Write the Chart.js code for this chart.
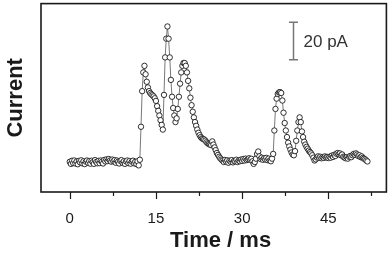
<!DOCTYPE html>
<html><head><meta charset="utf-8">
<script src="https://cdn.jsdelivr.net/npm/chart.js@4/dist/chart.umd.min.js"></script>
<style>html,body{margin:0;padding:0;background:#fff}canvas{display:block}</style>
</head><body>
<canvas id="c" width="390" height="256"></canvas>
<script>
// ---- data (time in ms, current in pA relative to baseline) ----
const timeMs = [
  0,0.2,0.4,0.6,0.8,1,1.2,1.4,1.6,1.8,
  2,2.2,2.4,2.6,2.8,3,3.2,3.4,3.6,3.8,
  4,4.2,4.4,4.6,4.8,5,5.2,5.4,5.6,5.8,
  6,6.2,6.4,6.6,6.8,7,7.2,7.4,7.6,7.8,
  8,8.2,8.4,8.6,8.8,9,9.2,9.4,9.6,9.8,
  10,10.2,10.4,10.6,10.8,11,11.2,11.4,11.6,11.8,
  12,12.2,12.4,12.6,12.8,13,13.2,13.4,13.6,13.8,
  14,14.2,14.4,14.6,14.8,15,15.2,15.4,15.6,15.8,
  16,16.2,16.4,16.6,16.8,17,17.2,17.4,17.6,17.8,
  18,18.2,18.4,18.6,18.8,19,19.2,19.4,19.6,19.8,
  20,20.2,20.4,20.6,20.8,21,21.2,21.4,21.6,21.8,
  22,22.2,22.4,22.6,22.8,23,23.2,23.4,23.6,23.8,
  24,24.2,24.4,24.6,24.8,25,25.2,25.4,25.6,25.8,
  26,26.2,26.4,26.6,26.8,27,27.2,27.4,27.6,27.8,
  28,28.2,28.4,28.6,28.8,29,29.2,29.4,29.6,29.8,
  30,30.2,30.4,30.6,30.8,31,31.2,31.4,31.6,31.8,
  32,32.2,32.4,32.6,32.8,33,33.2,33.4,33.6,33.8,
  34,34.2,34.4,34.6,34.8,35,35.2,35.4,35.6,35.8,
  36,36.2,36.4,36.6,36.8,37,37.2,37.4,37.6,37.8,
  38,38.2,38.4,38.6,38.8,39,39.2,39.4,39.6,39.8,
  40,40.2,40.4,40.6,40.8,41,41.2,41.4,41.6,41.8,
  42,42.2,42.4,42.6,42.8,43,43.2,43.4,43.6,43.8,
  44,44.2,44.4,44.6,44.8,45,45.2,45.4,45.6,45.8,
  46,46.2,46.4,46.6,46.8,47,47.2,47.4,47.6,47.8,
  48,48.2,48.4,48.6,48.8,49,49.2,49.4,49.6,49.8,
  50,50.2,50.4,50.6,50.8,51,51.2,51.4,51.6,51.8
];
const currentPA = [
  0.3,-0.8,0.9,-0.4,1.0,-0.6,0.5,-1.0,0.8,0.0,
  1.1,-0.5,0.6,-0.9,0.4,1.0,-0.3,0.7,-0.7,0.9,
  0.1,-0.8,1.2,0.2,-0.5,0.8,-0.4,1.0,0.3,-0.6,
  1.3,0.5,1.6,0.7,1.8,1.0,0.4,1.5,0.6,1.2,
  -0.2,1.0,0.3,-0.6,0.8,1.2,-0.3,0.6,-0.8,0.5,
  1.0,-0.4,0.7,-0.7,0.4,0.9,-0.5,0.3,-0.9,0.6,
  -1.6,1.4,19,38,48,51.5,47,43,40,38,
  37,36.3,35.8,35.2,34.2,32.8,30,27.5,25,22.5,
  20,17.5,36,56,66,72.5,66,56,44,35,
  29,25,21.5,23.5,28.5,35,42,48,51.5,53,
  53,51.5,48,43.5,39.5,34.5,30.5,27,24,21.5,
  19.5,17.5,15.8,14.5,13.5,12.8,12.5,12.2,11.6,10.8,
  10.2,9.8,9.5,9.2,11.2,9.5,8,6.5,5,4,
  3,2.2,1.5,1.0,0.2,1.3,0.4,1.1,-0.2,0.9,
  0.3,1.2,0.0,0.8,0.5,1.4,0.2,1.0,0.6,1.5,
  0.8,1.8,1.0,2.0,1.2,1.7,2.2,1.4,1.9,0.6,
  -0.8,0.2,2.0,4.5,5.8,3.2,1.8,2.5,1.4,2.2,
  1.6,2.4,1.2,2.0,1.0,0.6,2.0,4.5,17,28.5,
  34,36.5,37.3,37.5,37,33,26.5,21,17,13.5,
  10.5,8.5,6.8,5.3,4.2,3.8,6,11.5,17,21.5,
  24,21.5,16.5,13.5,11,9.5,8.3,7.3,6.3,5.5,
  4.8,3.8,2.5,1.0,1.6,2.6,3.2,2.4,3.0,2.2,
  2.8,2.4,3.2,2.6,2.9,2.3,3.0,2.5,3.6,2.9,
  4.0,3.4,4.6,5.0,4.3,4.8,3.8,4.2,3.0,2.6,
  2.2,2.8,2.0,3.0,3.4,2.8,3.8,4.5,4.0,4.8,
  4.2,3.4,3.8,2.8,3.2,2.4,2.0,1.6,1.0,0.5
];
const xMajorTicks = [0, 15, 30, 45];
const xMinorTicks = [7.5, 22.5, 37.5, 52.5];
const xTitle = 'Time / ms';
const yTitle = 'Current';
const scaleBarText = '20 pA';
const scaleBarSizePA = 20;
const scaleBarAt = { t: 38.9, fromPA: 54.7 };

Chart.defaults.font.family = "'Liberation Sans', Arial, Helvetica, sans-serif";

const framePlugin = {
  id: 'framePlugin',
  afterDraw(chart) {
    const ctx = chart.ctx, a = chart.chartArea;
    const xs = chart.scales.x, ys = chart.scales.y;
    ctx.save();
    // frame
    ctx.strokeStyle = '#1a1a1a';
    ctx.lineWidth = 1.6;
    ctx.strokeRect(a.left, a.top, a.right - a.left, a.bottom - a.top);
    // tick marks (major longer, minor shorter)
    ctx.lineWidth = 1.2;
    xs.ticks.forEach(tk => {
      const px = Math.round(xs.getPixelForValue(tk.value)) + 0.5;
      const len = xMajorTicks.includes(tk.value) ? 7 : 4;
      ctx.beginPath();
      ctx.moveTo(px, a.bottom);
      ctx.lineTo(px, a.bottom + len);
      ctx.stroke();
    });
    // x axis title centred on the tick range
    const p0 = xs.getPixelForValue(xMajorTicks[0]);
    const p1 = xs.getPixelForValue(xMinorTicks[xMinorTicks.length - 1]);
    ctx.fillStyle = '#1a1a1a';
    ctx.font = "bold 22px 'Liberation Sans', Arial, sans-serif";
    ctx.textAlign = 'center';
    ctx.textBaseline = 'alphabetic';
    ctx.fillText(xTitle, (p0 + p1) / 2, 247);
    // scale bar
    const bx = Math.round(xs.getPixelForValue(scaleBarAt.t)) + 0.5;
    const by1 = ys.getPixelForValue(scaleBarAt.fromPA);
    const by2 = ys.getPixelForValue(scaleBarAt.fromPA + scaleBarSizePA);
    ctx.strokeStyle = '#777';
    ctx.lineWidth = 1.5;
    ctx.beginPath();
    ctx.moveTo(bx, by1); ctx.lineTo(bx, by2);
    ctx.moveTo(bx - 4.5, by1); ctx.lineTo(bx + 4.5, by1);
    ctx.moveTo(bx - 4.5, by2); ctx.lineTo(bx + 4.5, by2);
    ctx.stroke();
    ctx.fillStyle = '#333';
    ctx.font = "17px 'Liberation Sans', Arial, sans-serif";
    ctx.textAlign = 'left';
    ctx.textBaseline = 'middle';
    ctx.fillText(scaleBarText, bx + 10, (by1 + by2) / 2 + 1);
    ctx.restore();
  }
};

new Chart(document.getElementById('c'), {
  type: 'scatter',
  data: {
    datasets: [{
      data: timeMs.map((t, i) => ({ x: t, y: currentPA[i] })),
      showLine: true,
      borderColor: '#555',
      borderWidth: 0.8,
      pointRadius: 2.7,
      pointHoverRadius: 2.7,
      pointBackgroundColor: '#fff',
      pointBorderColor: '#1a1a1a',
      pointBorderWidth: 0.9
    }]
  },
  options: {
    responsive: false,
    animation: false,
    devicePixelRatio: 1,
    layout: { padding: { top: 1, right: 3, left: 0, bottom: 0 } },
    plugins: { legend: { display: false }, tooltip: { enabled: false } },
    scales: {
      x: {
        type: 'linear',
        min: -5,
        max: 55.1,
        afterBuildTicks: s => {
          s.ticks = xMajorTicks.concat(xMinorTicks).sort((a, b) => a - b).map(v => ({ value: v }));
        },
        afterFit: s => { s.height = 64; },
        ticks: {
          autoSkip: false,
          maxRotation: 0,
          padding: 11,
          color: '#1a1a1a',
          font: { size: 15 },
          callback: v => xMajorTicks.includes(v) ? String(v) : ''
        },
        grid: { display: false, drawTicks: true, tickLength: 7 },
        border: { display: false },
        title: { display: false }
      },
      y: {
        min: -15.8,
        max: 84.7,
        afterFit: s => { s.width = 41; },
        ticks: { display: false },
        grid: { display: false, drawTicks: false },
        border: { display: false },
        title: {
          display: true,
          text: yTitle,
          color: '#1a1a1a',
          font: { size: 22, weight: 'bold' },
          padding: { top: 2.5, bottom: 0 }
        }
      }
    }
  },
  plugins: [framePlugin]
});
</script>
</body></html>
